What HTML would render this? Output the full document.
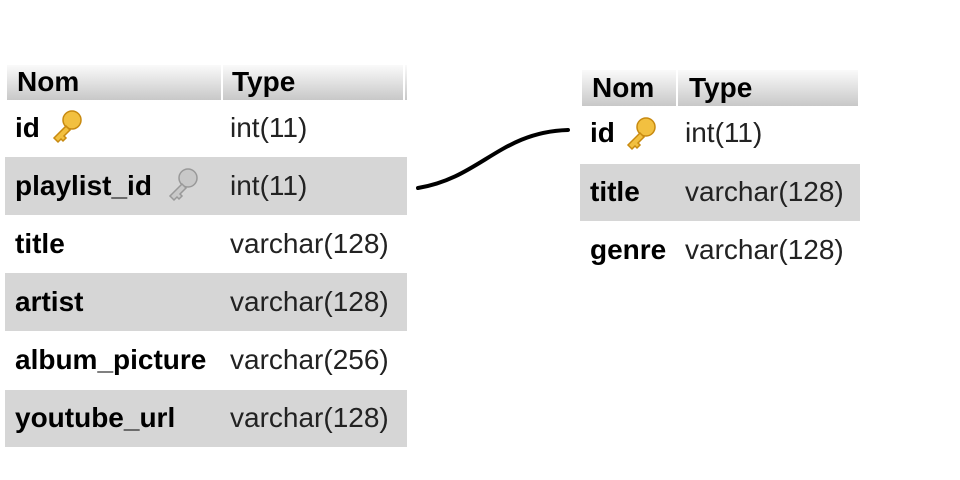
<!DOCTYPE html>
<html><head><meta charset="utf-8"><style>
body{margin:0;width:960px;height:480px;background:#fff;position:relative;overflow:hidden;font-family:"Liberation Sans",sans-serif}
.a{position:absolute}
.hd{background:linear-gradient(#fafafa,#c8c8c8);}
.g{background:#d6d6d6}
.t{position:absolute;font-size:28px;line-height:1;white-space:nowrap}
.b{font-weight:bold;color:#000}
.n{color:#222}
</style></head><body>
<!-- left table -->
<div class="a hd" style="left:7px;top:65px;width:214px;height:35px"></div>
<div class="a hd" style="left:223px;top:65px;width:180px;height:35px"></div>
<div class="a hd" style="left:405px;top:65px;width:2px;height:35px"></div>
<div class="t b" style="left:17px;top:68px">Nom</div>
<div class="t b" style="left:232px;top:68px">Type</div>
<div class="a g" style="left:5px;top:157px;width:402px;height:58px"></div>
<div class="a g" style="left:5px;top:273px;width:402px;height:58px"></div>
<div class="a g" style="left:5px;top:390px;width:402px;height:57px"></div>
<div class="t b" style="left:15px;top:114px">id</div>
<div class="t n" style="left:230px;top:114px">int(11)</div>
<div class="t b" style="left:15px;top:172px">playlist_id</div>
<div class="t n" style="left:230px;top:172px">int(11)</div>
<div class="t b" style="left:15px;top:230px">title</div>
<div class="t n" style="left:230px;top:230px">varchar(128)</div>
<div class="t b" style="left:15px;top:288px">artist</div>
<div class="t n" style="left:230px;top:288px">varchar(128)</div>
<div class="t b" style="left:15px;top:346px">album_picture</div>
<div class="t n" style="left:230px;top:346px">varchar(256)</div>
<div class="t b" style="left:15px;top:404px">youtube_url</div>
<div class="t n" style="left:230px;top:404px">varchar(128)</div>
<!-- right table -->
<div class="a hd" style="left:582px;top:70px;width:94px;height:36px"></div>
<div class="a hd" style="left:678px;top:70px;width:180px;height:36px"></div>
<div class="t b" style="left:592px;top:74px">Nom</div>
<div class="t b" style="left:689px;top:74px">Type</div>
<div class="a g" style="left:580px;top:164px;width:280px;height:57px"></div>
<div class="t b" style="left:590px;top:119px">id</div>
<div class="t n" style="left:685px;top:119px">int(11)</div>
<div class="t b" style="left:590px;top:178px">title</div>
<div class="t n" style="left:685px;top:178px">varchar(128)</div>
<div class="t b" style="left:590px;top:236px">genre</div>
<div class="t n" style="left:685px;top:236px">varchar(128)</div>
<svg class="a" style="left:0;top:0" width="960" height="480">
<defs>
<g id="key"><circle cx="22" cy="10" r="9"/><path d="M16 16 L4 28 L8 32 L11 29 L13 31 L16 28 L14 26 L20 20 Z"/></g>
</defs>
<g fill="#f2c040" stroke="#c88a10" stroke-width="1.5"><use href="#key" x="50" y="110"/><use href="#key" x="624" y="117"/></g>
<g fill="#c8c8c8" stroke="#999" stroke-width="1.5"><use href="#key" x="166" y="168"/></g>
<path d="M418 188 C 480 178, 500 132, 568 130" fill="none" stroke="#000" stroke-width="4" stroke-linecap="round"/>
</svg>
</body></html>
